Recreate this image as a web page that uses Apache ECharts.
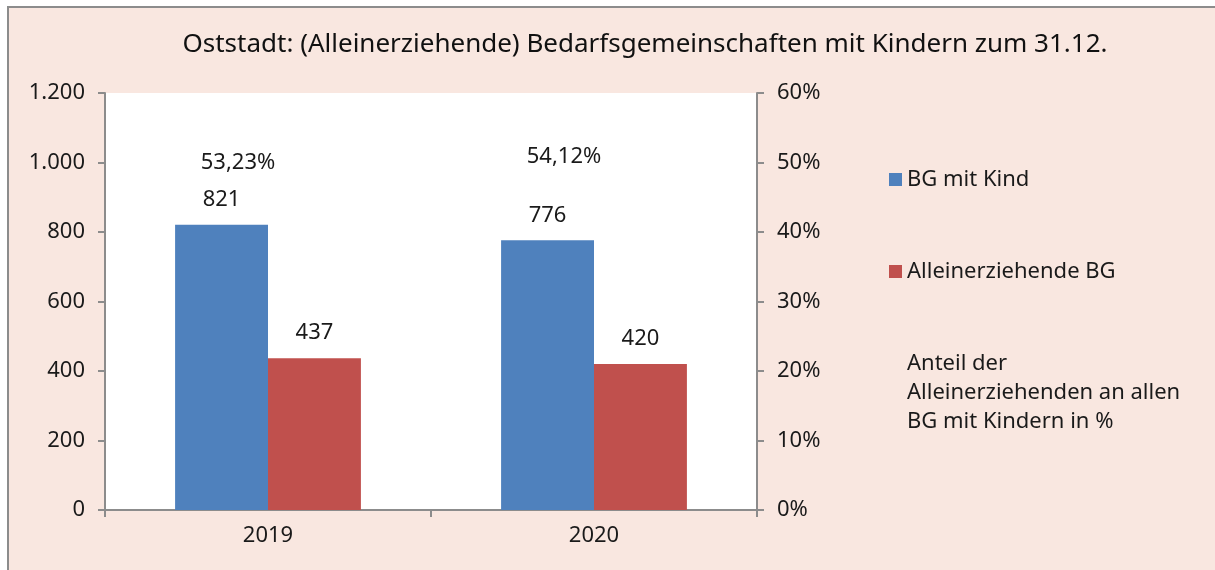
<!DOCTYPE html>
<html>
<head>
<meta charset="utf-8">
<script src="https://cdn.jsdelivr.net/npm/echarts@6/dist/echarts.min.js"></script>
<style>
  html, body { margin: 0; padding: 0; background: #fff; }
  #chart { width: 1215px; height: 570px; }
</style>
</head>
<body>
<div id="chart"></div>
<script>
// Daten
const years = ['2019', '2020'];
const bgMitKind = [821, 776];
const alleinerziehendeBG = [437, 420];
const anteilProzent = [53.23, 54.12];

const nameKind = 'BG mit Kind';
const nameAllein = 'Alleinerziehende BG';
const nameAnteil = 'Anteil der Alleinerziehenden an allen BG mit Kindern in %';

const fontFam = '"Noto Sans", "Open Sans", sans-serif';

// 1.200 statt 1,200
function deNumber(v) {
  return String(v).replace(/\B(?=(\d{3})+(?!\d))/g, '.');
}

const chart = echarts.init(document.getElementById('chart'));

const option = {
  backgroundColor: '#fff',
  textStyle: { fontFamily: fontFam, color: '#1a1a1a' },
  // rosa Hintergrund mit grauem Rahmen
  graphic: [{
    type: 'rect',
    z: -10,
    shape: { x: 8, y: 7, width: 1230, height: 600 },
    style: { fill: '#f9e7e0', stroke: '#8c8c8c', lineWidth: 2 }
  }],
  title: {
    text: 'Oststadt: (Alleinerziehende) Bedarfsgemeinschaften mit Kindern zum 31.12.',
    left: 640,
    top: 27,
    textAlign: 'center',
    textStyle: { fontFamily: fontFam, fontSize: 26, fontWeight: 'normal', color: '#111' }
  },
  legend: {
    orient: 'vertical',
    left: 889,
    top: 165,
    padding: 0,
    itemGap: 63,
    itemWidth: 13,
    itemHeight: 13,
    icon: 'rect',
    textStyle: { fontFamily: fontFam, fontSize: 22, color: '#1a1a1a', lineHeight: 29 },
    formatter: function (name) {
      if (name === nameAnteil) return 'Anteil der\nAlleinerziehenden an allen\nBG mit Kindern in %';
      return name;
    },
    data: [
      { name: nameKind },
      { name: nameAllein },
      { name: nameAnteil, itemStyle: { color: 'rgba(0,0,0,0)' } }
    ]
  },
  grid: {
    left: 105,
    right: 458,
    top: 93,
    bottom: 60,
    show: true,
    backgroundColor: '#fff',
    borderWidth: 0
  },
  xAxis: {
    type: 'category',
    data: years,
    axisLine: { lineStyle: { color: '#8c8c8c', width: 2 } },
    axisTick: { show: true, length: 7, lineStyle: { color: '#8c8c8c', width: 2 } },
    axisLabel: { fontFamily: fontFam, fontSize: 22, color: '#1a1a1a', margin: 15 }
  },
  yAxis: [{
    type: 'value',
    min: 0,
    max: 1200,
    interval: 200,
    axisLine: { show: true, lineStyle: { color: '#8c8c8c', width: 2 } },
    axisTick: { show: true, length: 7, lineStyle: { color: '#8c8c8c', width: 2 } },
    splitLine: { show: false },
    axisLabel: {
      fontFamily: fontFam, fontSize: 22, color: '#1a1a1a', margin: 20,
      formatter: deNumber
    }
  }, {
    type: 'value',
    min: 0,
    max: 60,
    interval: 10,
    position: 'right',
    axisLine: { show: true, lineStyle: { color: '#8c8c8c', width: 2 } },
    axisTick: { show: true, length: 7, lineStyle: { color: '#8c8c8c', width: 2 } },
    splitLine: { show: false },
    axisLabel: {
      fontFamily: fontFam, fontSize: 22, color: '#1a1a1a', margin: 20,
      formatter: '{value}%'
    }
  }],
  series: [{
    name: nameKind,
    type: 'bar',
    data: bgMitKind,
    barGap: '0%',
    barCategoryGap: '43%',
    itemStyle: { color: '#4f81bd' },
    label: {
      show: true, position: 'top', distance: 14,
      fontFamily: fontFam, fontSize: 22, color: '#1a1a1a',
      formatter: p => deNumber(p.value)
    }
  }, {
    name: nameAllein,
    type: 'bar',
    data: alleinerziehendeBG,
    itemStyle: { color: '#c0504d' },
    label: {
      show: true, position: 'top', distance: 14,
      fontFamily: fontFam, fontSize: 22, color: '#1a1a1a',
      formatter: p => deNumber(p.value)
    }
  }, {
    // Linie ohne sichtbare Linie, nur Beschriftung
    name: nameAnteil,
    type: 'line',
    yAxisIndex: 1,
    data: anteilProzent,
    symbol: 'circle',
    symbolSize: 1,
    itemStyle: { color: 'rgba(0,0,0,0)' },
    lineStyle: { width: 0, color: 'rgba(0,0,0,0)' },
    label: {
      show: true, position: 'bottom', distance: 5, offset: [-30, 6],
      fontFamily: fontFam, fontSize: 22, color: '#1a1a1a',
      formatter: p => p.value.toFixed(2).replace('.', ',') + '%'
    }
  }]
};

chart.setOption(option);
</script>
</body>
</html>
